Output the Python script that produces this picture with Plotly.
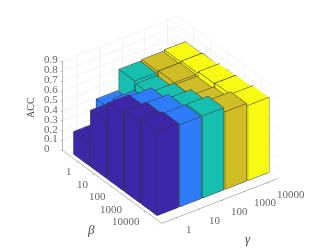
import plotly.graph_objects as go

gamma_labels = ["1", "10", "100", "1000", "10000"]
beta_labels = ["1", "10", "100", "1000", "10000"]
z_ticks = [0, 0.1, 0.2, 0.3, 0.4, 0.5, 0.6, 0.7, 0.8, 0.9]
z_labels = ["0", "0.1", "0.2", "0.3", "0.4", "0.5", "0.6", "0.7", "0.8", "0.9"]
acc_beta_1 = [0.23, 0.47, 0.68, 0.69, 0.70]
acc_beta_10 = [0.57, 0.60, 0.66, 0.70, 0.71]
acc_beta_100 = [0.77, 0.75, 0.71, 0.69, 0.73]
acc_beta_1000 = [0.82, 0.81, 0.77, 0.71, 0.74]
acc_beta_10000 = [0.85, 0.83, 0.83, 0.785, 0.76]
acc_rows = [acc_beta_1, acc_beta_10, acc_beta_100, acc_beta_1000, acc_beta_10000]
gamma_colors = ["#3e26a8", "#2f7cfb", "#17bfb0", "#d0bd26", "#f9fa14"]
half_w = 0.47
inset = 0.006
x_lo, x_hi = 0.36, 5.47
y_front, y_back = 5.97, 0.10

fig = go.Figure()
ex, ey, ez = [], [], []
for bi, row in enumerate(acc_rows):
    by = bi + 1
    for gi, val in enumerate(row):
        gx = gi + 1
        m = half_w - inset
        x0, x1, y0, y1 = gx - m, gx + m, by - m, by + m
        xs = [x0, x1, x1, x0, x0, x1, x1, x0]
        ys = [y0, y0, y1, y1, y0, y0, y1, y1]
        zs = [0, 0, 0, 0, val - 0.003, val - 0.003, val - 0.003, val - 0.003]
        fig.add_trace(go.Mesh3d(
            x=xs, y=ys, z=zs,
            i=[0, 0, 4, 4, 0, 0, 1, 1, 2, 2, 3, 3],
            j=[1, 2, 5, 6, 1, 5, 2, 6, 3, 7, 0, 4],
            k=[2, 3, 6, 7, 5, 4, 6, 5, 7, 6, 4, 7],
            color=gamma_colors[gi], flatshading=True,
            lighting=dict(ambient=1, diffuse=0, specular=0, fresnel=0, roughness=1),
            hoverinfo="skip", showscale=False))
        x0, x1, y0, y1 = gx - half_w, gx + half_w, by - half_w, by + half_w
        xs = [x0, x1, x1, x0, x0, x1, x1, x0]
        ys = [y0, y0, y1, y1, y0, y0, y1, y1]
        zs = [0, 0, 0, 0, val, val, val, val]
        for a, b in [(0, 1), (1, 2), (2, 3), (3, 0), (4, 5), (5, 6), (6, 7), (7, 4), (0, 4), (1, 5), (2, 6), (3, 7)]:
            ex += [xs[a], xs[b], None]
            ey += [ys[a], ys[b], None]
            ez += [zs[a], zs[b], None]
fig.add_trace(go.Scatter3d(x=ex, y=ey, z=ez, mode="lines",
                           line=dict(color="#333333", width=1),
                           hoverinfo="skip", showlegend=False))

tick_font = dict(family="Liberation Serif", size=11, color="#666666")
title_font = dict(family="Liberation Serif", size=10, color="#444444")
sym_font = dict(family="Liberation Serif", size=13, color="#444444")
common = dict(showbackground=False, showspikes=False, gridcolor="#e6e6e6", gridwidth=1,
              zeroline=False, showline=True, linecolor="#777777", linewidth=1,
              ticks="outside", ticklen=2, tickcolor="#777777", showticklabels=False,
              title=dict(text=""))

note_x = x_lo + 0.01
note_y = y_back + 0.01
note_y_front = y_front - 0.01
scene_notes = []
for t, lab in zip(z_ticks, z_labels):
    scene_notes.append(dict(x=note_x, y=note_y, z=t, text=lab, showarrow=False, xanchor="left",
                            yanchor="middle", xshift=-21, yshift=2, font=tick_font))
for i, lab in enumerate(gamma_labels):
    scene_notes.append(dict(x=i + 1, y=note_y_front, z=0, text=lab, showarrow=False, xanchor="left",
                            yanchor="middle", xshift=8, yshift=-11, font=tick_font))
for i, lab in enumerate(beta_labels):
    scene_notes.append(dict(x=note_x, y=i + 1, z=0, text=lab, showarrow=False, xanchor="right",
                            yanchor="middle", xshift=-4, yshift=-10, font=tick_font))

fig.update_layout(
    width=332, height=249, margin=dict(l=0, r=0, t=0, b=0), paper_bgcolor="white",
    showlegend=False,
    scene=dict(
        domain=dict(x=[0, 1], y=[0, 1]),
        xaxis=dict(common, range=[x_lo, x_hi], tickvals=[1, 2, 3, 4, 5]),
        yaxis=dict(common, range=[y_front, y_back], tickvals=[1, 2, 3, 4, 5]),
        zaxis=dict(common, range=[0, 0.905], tickvals=z_ticks),
        aspectmode="manual", aspectratio=dict(x=1.15, y=1.36, z=0.85),
        camera=dict(projection=dict(type="orthographic"),
                    eye=dict(x=-1.2, y=-1.6, z=1.216), center=dict(x=-0.026, y=0.019, z=-0.046),
                    up=dict(x=0, y=0, z=1)),
        annotations=scene_notes,
    ),
    annotations=[
        dict(text="ACC", x=30 / 332, y=1 - 108 / 249, xref="paper", yref="paper", showarrow=False,
             textangle=-90, xanchor="center", yanchor="middle", font=title_font),
        dict(text="<i>β</i>", x=91 / 332, y=1 - 229 / 249, xref="paper", yref="paper", showarrow=False,
             xanchor="center", yanchor="middle", font=sym_font),
        dict(text="<i>γ</i>", x=248 / 332, y=1 - 238 / 249, xref="paper", yref="paper", showarrow=False,
             xanchor="center", yanchor="middle", font=sym_font),
    ],
)
fig.write_html("out.html", config=dict(displayModeBar=False),
               post_script="document.body.style.margin='0';")
